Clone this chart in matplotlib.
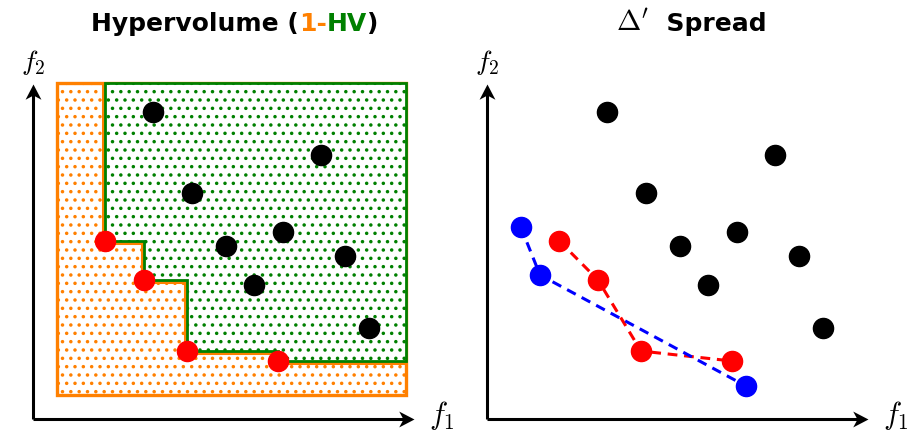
import matplotlib.pyplot as plt
from matplotlib.patches import Rectangle, Polygon
from matplotlib.path import Path
from matplotlib import transforms

plt.rcParams['mathtext.fontset'] = 'cm'
plt.rcParams['hatch.linewidth'] = 1.3

# objective values (f1, f2) of the population
black_x = [3.12, 7.50, 4.14, 6.51, 5.03, 8.12, 5.76, 8.75]
black_y = [8.00, 6.88, 5.89, 4.87, 4.50, 4.24, 3.49, 2.37]
# non-dominated front (red)
front_x = [1.88, 2.89, 4.01, 6.38]
front_y = [4.64, 3.62, 1.77, 1.51]
# well spread reference front (blue)
blue_x = [0.88, 1.38, 6.74]
blue_y = [5.00, 3.75, 0.86]
# ideal and reference (nadir) points of the hypervolume box
ideal = (0.62, 0.62)
nadir = (9.71, 8.75)
axis_end = (9.92, 8.72)

ORANGE = '#ff8000'
GREEN = '#008000'

W, H = 924, 435
PX = 38.4  # pixels per unit

fig = plt.figure(figsize=(W / 100, H / 100), dpi=100)

def make_ax(left, width, ox):
    ax = fig.add_axes([left / W, 0, width / W, 1])
    ax.set_xlim(-(ox - left) / PX, (left + width - ox) / PX)
    ax.set_ylim(-(H - 420) / PX, 420 / PX)
    ax.axis('off')
    return ax

axL = make_ax(0, 460, 33)
axR = make_ax(460, 464, 487)

# stealth arrow head marker (tip at origin, pointing right)
head = [(0, 0), (-1, 0.52), (-0.72, 0), (-1, -0.52), (0, 0)]
head_right = Path(head)
head_up = Path([(-y, x) for x, y in head])

def draw_axes(ax):
    ax.plot([0, axis_end[0] - 0.2], [0, 0], color='k', lw=2.2, solid_capstyle='butt')
    ax.plot([0, 0], [0, axis_end[1] - 0.2], color='k', lw=2.2, solid_capstyle='butt')
    ax.plot(axis_end[0], 0, marker=head_right, ms=22, color='k', mew=0)
    ax.plot(0, axis_end[1], marker=head_up, ms=22, color='k', mew=0)
    ax.text(0, axis_end[1] + 0.6, r'$f_2$', fontsize=20, ha='center', va='center')
    ax.text(axis_end[0] + 0.72, 0.12, r'$f_1$', fontsize=22, ha='center', va='center')

# ---- left: hypervolume ----
axL.add_patch(Rectangle(ideal, nadir[0] - ideal[0], nadir[1] - ideal[1],
                        facecolor='white', edgecolor=ORANGE, hatch='..', lw=2.4, zorder=1))

# dominated region bounded by the front
verts = [(front_x[0], nadir[1])]
for i in range(len(front_x)):
    verts.append((front_x[i], front_y[i]))
    nx = front_x[i + 1] if i + 1 < len(front_x) else nadir[0]
    verts.append((nx, front_y[i]))
verts.append(nadir)

off = transforms.offset_copy(axL.transData, fig=fig, x=-2, y=-2, units='dots')
axL.plot([v[0] for v in verts[:-1]], [v[1] for v in verts[:-1]], color=ORANGE, lw=2.2,
         transform=off, zorder=2)
axL.add_patch(Polygon(verts, closed=True, facecolor='white', edgecolor=GREEN,
                      hatch='..', lw=2.0, zorder=3))
axL.plot(black_x, black_y, 'o', color='k', ms=14.5, zorder=5)
axL.plot(front_x, front_y, 'o', color='red', ms=14.5, zorder=5)
draw_axes(axL)

# ---- right: spread ----
axR.plot(front_x, front_y, color='red', lw=2.2, ls=(0, (3.2, 2.2)), zorder=3)
axR.plot(blue_x, blue_y, color='blue', lw=2.2, ls=(0, (3.2, 2.2)), zorder=3)
axR.plot(black_x, black_y, 'o', color='k', ms=14.5, zorder=5)
axR.plot(front_x, front_y, 'o', color='red', ms=14.5, zorder=5)
axR.plot(blue_x, blue_y, 'o', color='blue', ms=14.5, zorder=5)
draw_axes(axR)

# ---- titles built from coloured pieces ----
def rich_title(cx, base_y, pieces):
    r = fig.canvas.get_renderer()
    texts = [fig.text(0, 1 - base_y / H, s, color=c, va='baseline', **kw) for s, c, kw in pieces]
    widths = [t.get_window_extent(r).width for t in texts]
    x = cx - sum(widths) / 2
    for t, w in zip(texts, widths):
        t.set_x(x / W)
        x += w

bold = dict(fontsize=18, fontweight='bold', family='DejaVu Sans')
rich_title(235, 31, [('Hypervolume (', 'k', bold), ('1-', ORANGE, bold),
                     ('HV', GREEN, bold), (')', 'k', bold)])
rich_title(691, 31, [(r'$\Delta^{\prime}$', 'k', dict(fontsize=21)),
                     ('  Spread', 'k', bold)])

fig.savefig('out.png', dpi=100)
